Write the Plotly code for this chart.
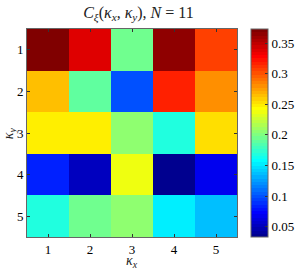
import numpy as np
import plotly.graph_objects as go

kx = [1, 2, 3, 4, 5]
ky = [1, 2, 3, 4, 5]
C = [
    [0.373, 0.336, 0.193, 0.363, 0.305],
    [0.264, 0.188, 0.101, 0.317, 0.278],
    [0.246, 0.246, 0.203, 0.166, 0.256],
    [0.081, 0.049, 0.240, 0.033, 0.070],
    [0.166, 0.193, 0.203, 0.155, 0.135],
]
cb_ticks = [0.05, 0.1, 0.15, 0.2, 0.25, 0.3, 0.35]
cb_ticktext = ["0.05", "0.1", "0.15", "0.2", "0.25", "0.3", "0.35"]

# MATLAB jet(64), discrete
n = 64
m = 16
u = np.concatenate([np.arange(1, m + 1) / m, np.ones(m - 1), np.arange(m, 0, -1) / m])
g = m // 2 + np.arange(1, len(u) + 1) - 1
r = g + m
b = g - m
cmap = np.zeros((n, 3))
for idx, ch in zip([r, g, b], range(3)):
    valid = (idx >= 0) & (idx < n)
    cmap[idx[valid], ch] = u[valid]
colorscale = []
for i in range(n):
    c = "rgb(%d,%d,%d)" % tuple(np.round(cmap[i] * 255).astype(int))
    colorscale.append([i / n, c])
    colorscale.append([(i + 1) / n, c])

font = "Liberation Serif, Times New Roman, serif"
fig = go.Figure(go.Heatmap(
    x=kx, y=ky, z=C, colorscale=colorscale,
    zmin=min(min(row) for row in C), zmax=max(max(row) for row in C),
    colorbar=dict(
        x=1.067, xanchor="left", xref="paper", xpad=0, ypad=0,
        thickness=17, len=1, lenmode="fraction",
        y=0.5, yanchor="middle", outlinecolor="#666", outlinewidth=1,
        tickvals=cb_ticks, ticktext=cb_ticktext, ticks="inside", ticklen=3,
        tickcolor="#333", tickfont=dict(family=font, size=13, color="black"),
    ),
))
fig.update_layout(
    width=301, height=269,
    margin=dict(l=27, r=64, t=29, b=32, autoexpand=False),
    paper_bgcolor="white", plot_bgcolor="white",
    title=dict(
        text="<i>C<sub>ξ</sub></i>(<i>κ<sub>x</sub></i>, <i>κ<sub>y</sub></i>), <i>N</i> = 11",
        x=0.46, xanchor="center", y=0.955, yanchor="middle",
        font=dict(family=font, size=16, color="#222"),
    ),
    annotations=[
        dict(text="<i>κ<sub>x</sub></i>", xref="paper", yref="paper", x=0.5, y=-0.12,
             xanchor="center", yanchor="middle", showarrow=False,
             font=dict(family=font, size=14, color="#222")),
        dict(text="<i>κ<sub>y</sub></i>", xref="paper", yref="paper", x=-0.085, y=0.5,
             xanchor="center", yanchor="middle", showarrow=False, textangle=-90,
             font=dict(family=font, size=14, color="#222")),
    ],
)
fig.update_xaxes(
    tickvals=kx, ticktext=[str(v) for v in kx], ticks="inside", ticklen=3,
    tickcolor="#333", showline=True, linecolor="#666", mirror="ticks",
    tickfont=dict(family=font, size=13, color="black"),
    range=[0.5, 5.5], showgrid=False, zeroline=False,
)
fig.update_yaxes(
    tickvals=ky, ticktext=[str(v) for v in ky], ticks="inside", ticklen=3,
    tickcolor="#333", showline=True, linecolor="#666", mirror="ticks",
    tickfont=dict(family=font, size=13, color="black"),
    range=[5.5, 0.5], showgrid=False, zeroline=False,
)
fig.write_html(
    "out.html",
    config={"displayModeBar": False},
    post_script="document.body.style.margin='0';document.body.style.overflow='hidden';",
)
